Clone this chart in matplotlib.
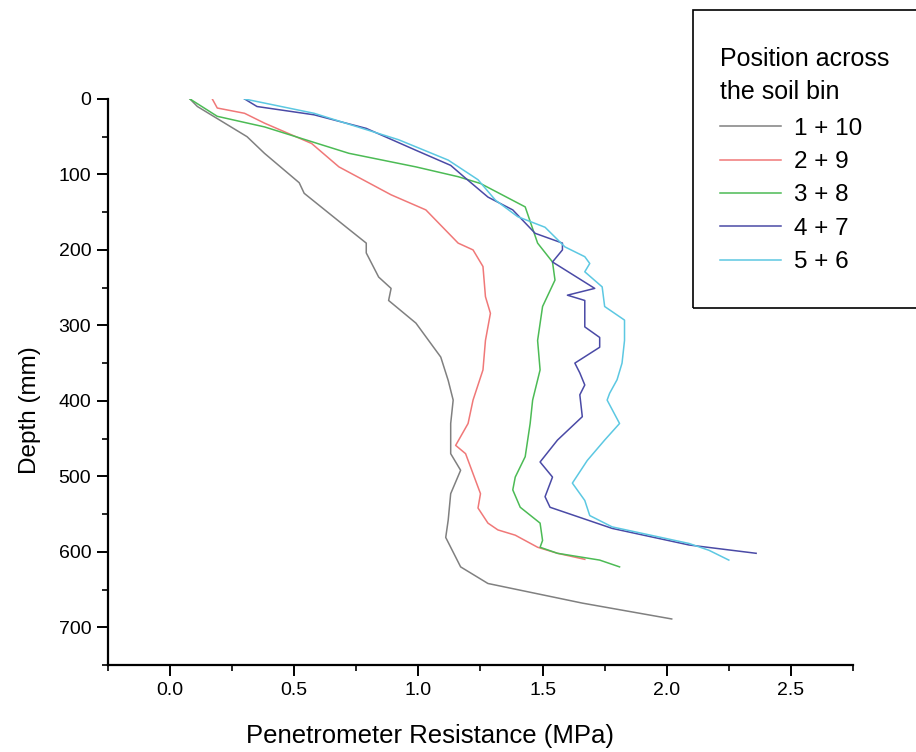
import matplotlib
matplotlib.use("Agg")
import matplotlib.pyplot as plt
from matplotlib.patches import Rectangle
from matplotlib.ticker import MultipleLocator

plt.rcParams['font.family'] = ['Liberation Sans', 'DejaVu Sans']

# depth (mm) and resistance (MPa)
d_1_10 = [0, 10, 50, 72, 111, 125, 170, 191, 204, 236, 251, 267, 297, 342, 373, 399, 430, 470, 492, 523, 558, 581, 620, 642, 668, 689]
r_1_10 = [0.08, 0.11, 0.31, 0.38, 0.52, 0.54, 0.71, 0.79, 0.79, 0.84, 0.89, 0.88, 0.99, 1.09, 1.12, 1.14, 1.13, 1.13, 1.17, 1.13, 1.12, 1.11, 1.17, 1.28, 1.66, 2.02]

d_2_9 = [0, 12, 19, 32, 59, 90, 127, 147, 191, 200, 222, 262, 284, 320, 359, 399, 430, 459, 470, 523, 542, 562, 571, 578, 594, 602, 610]
r_2_9 = [0.17, 0.19, 0.30, 0.38, 0.57, 0.68, 0.89, 1.03, 1.16, 1.22, 1.26, 1.27, 1.29, 1.27, 1.26, 1.22, 1.20, 1.15, 1.19, 1.25, 1.24, 1.28, 1.32, 1.39, 1.48, 1.56, 1.67]

d_3_8 = [0, 23, 37, 72, 90, 103, 112, 143, 191, 216, 240, 275, 320, 359, 399, 430, 474, 501, 518, 541, 562, 585, 594, 602, 611, 620]
r_3_8 = [0.08, 0.19, 0.38, 0.72, 0.99, 1.16, 1.25, 1.43, 1.48, 1.54, 1.55, 1.50, 1.48, 1.49, 1.46, 1.45, 1.43, 1.39, 1.38, 1.41, 1.49, 1.50, 1.49, 1.56, 1.73, 1.81]

d_4_7 = [0, 10, 21, 39, 68, 88, 105, 130, 147, 178, 191, 200, 216, 251, 260, 267, 302, 316, 329, 350, 363, 379, 392, 421, 452, 481, 501, 527, 541, 569, 591, 602]
r_4_7 = [0.30, 0.35, 0.58, 0.79, 0.99, 1.13, 1.19, 1.28, 1.38, 1.47, 1.58, 1.58, 1.54, 1.71, 1.60, 1.67, 1.67, 1.73, 1.73, 1.63, 1.65, 1.67, 1.65, 1.66, 1.56, 1.49, 1.54, 1.51, 1.53, 1.78, 2.09, 2.36]

d_5_6 = [0, 19, 54, 81, 107, 134, 156, 170, 196, 209, 218, 229, 249, 275, 293, 320, 350, 372, 390, 399, 430, 452, 479, 509, 532, 552, 567, 589, 598, 611]
r_5_6 = [0.30, 0.58, 0.92, 1.12, 1.24, 1.31, 1.40, 1.51, 1.59, 1.67, 1.69, 1.67, 1.74, 1.75, 1.83, 1.83, 1.82, 1.80, 1.77, 1.76, 1.81, 1.75, 1.68, 1.62, 1.67, 1.69, 1.78, 2.09, 2.17, 2.25]

labels = ["1 + 10", "2 + 9", "3 + 8", "4 + 7", "5 + 6"]
colors = ["#808080", "#f07878", "#4cbb55", "#4a4aa6", "#5cc8e2"]

fig = plt.figure(figsize=(9.16, 7.52), dpi=100)
ax = fig.add_axes([0.1179, 0.1157, 0.8133, 0.7527])

series = [(r_1_10, d_1_10), (r_2_9, d_2_9), (r_3_8, d_3_8), (r_4_7, d_4_7), (r_5_6, d_5_6)]
for (r, d), lab, c in zip(series, labels, colors):
    ax.plot(r, d, color=c, lw=1.1, label=lab)

ax.set_xlim(-0.25, 2.75)
ax.set_ylim(750, 0)
ax.xaxis.set_minor_locator(MultipleLocator(0.25))
ax.yaxis.set_minor_locator(MultipleLocator(50))
ax.set_yticks(range(0, 800, 100))
ax.set_yticklabels([str(v) for v in range(0, 800, 100)])
ax.set_xticks([0.0, 0.5, 1.0, 1.5, 2.0, 2.5])
ax.set_xticklabels(["0.0", "0.5", "1.0", "1.5", "2.0", "2.5"])

for s in ["top", "right"]:
    ax.spines[s].set_visible(False)
for s in ["left", "bottom"]:
    ax.spines[s].set_linewidth(1.6)
ax.tick_params(which="major", direction="out", length=8, width=1.4, labelsize=14, pad=4)
ax.tick_params(which="minor", direction="out", length=4, width=1.2)

ax.set_xlabel("Penetrometer Resistance (MPa)", fontsize=18.5)
ax.xaxis.set_label_coords(0.432, -0.105)
ax.set_ylabel("Depth (mm)", fontsize=17.5)
ax.yaxis.set_label_coords(-0.09, 0.45)

# legend box runs off the right edge
fig.patches.append(Rectangle((693 / 916, 1 - 308 / 752), 0.3, 298 / 752,
                             transform=fig.transFigure, fill=False,
                             edgecolor="black", lw=1.2, clip_on=False))
leg = fig.legend(loc="upper left", bbox_to_anchor=(708 / 916, 1 - 35 / 752),
                 title="Position across\nthe soil bin", frameon=False,
                 fontsize=17.5, title_fontsize=18, handlelength=2.5,
                 handletextpad=0.55, labelspacing=0.47, borderpad=0)
leg.get_title().set_linespacing(1.45)
leg._legend_box.align = "left"
leg._legend_box.sep = 10

fig.savefig("out.png", dpi=100)
